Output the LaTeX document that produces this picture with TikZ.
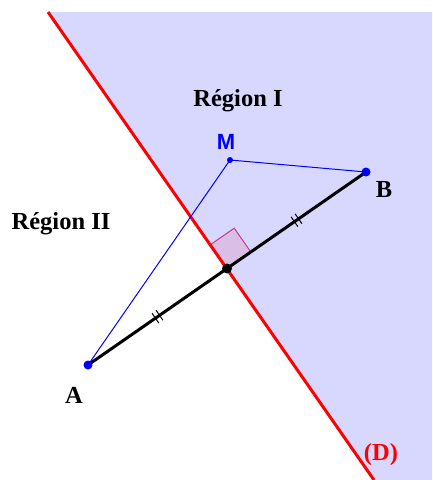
\documentclass[tikz,border=0pt]{standalone}
\usepackage{fontspec}
\setmainfont{Liberation Serif}
\newfontfamily\armf{Liberation Sans}
\usetikzlibrary{calc}
\definecolor{regionfill}{RGB}{216,216,255}
\definecolor{raf}{RGB}{218,190,230}
\definecolor{rad}{RGB}{196,60,140}
\tikzset{
  lbl/.style={font=\fontsize{24.5}{27}\selectfont\bfseries, inner sep=0pt},
  dotb/.style={circle, fill=blue, inner sep=0pt, minimum size=9pt},
  tick/.style={line width=1pt, black},
}
\begin{document}
\begin{tikzpicture}[x=1pt,y=-1pt]
\useasboundingbox (0,0) rectangle (432,480);
% shaded half-plane
\fill[regionfill] (48,12) -- (432,12) -- (432,480) -- (374,480) -- cycle;
% points
\coordinate (A) at (88,365);
\coordinate (B) at (366,172);
\coordinate (M) at (230,160);
\coordinate (I) at ($(A)!0.5!(B)$);
\coordinate (D1) at (48,12);
\coordinate (D2) at (374,480);
% right angle mark
\coordinate (ru) at ($(I)!29pt!(D1)$);
\coordinate (rb) at ($(I)!29pt!(B)$);
\filldraw[fill=raf, draw=rad, line width=1pt] (I) -- (ru) -- ($(ru)+(rb)-(I)$) -- (rb) -- cycle;
% red line D
\draw[red, line width=3pt] (D1) -- (D2);
% blue segments
\draw[blue, line width=1pt] (A) -- (M) -- (B);
% segment AB
\draw[black, line width=3pt] (A) -- (B);
% tick marks
\foreach \p in {0.25,0.75}{
  \coordinate (T) at ($(A)!\p!(B)$);
  \foreach \s in {-2.5,2.5}{
    \coordinate (Ts) at ($(T)!\s pt!(B)$);
    \draw[tick] ($(Ts)!6pt!90:(B)$) -- ($(Ts)!6pt!-90:(B)$);
  }
}
% points
\node[dotb] (pA) at (A) {};
\node[dotb] (pB) at (B) {};
\node[circle, fill=blue, inner sep=0pt, minimum size=6pt] (pM) at (M) {};
\node[circle, fill=black, inner sep=0pt, minimum size=10pt] (pI) at (I) {};
% labels
\node[lbl] (rI) at (238,101) {Région I};
\node[lbl] (rII) at (61,224) {Région II};
\node[lbl] (lA) at (74,395) {A};
\node[lbl] (lB) at (384,190) {B};
\node[lbl, text=red] (lD) at (381,455) {(D)};
\node[inner sep=0pt, text=blue, font=\armf\fontsize{22}{24}\selectfont\bfseries] (lM) at (226,142) {M};
\end{tikzpicture}
\end{document}
